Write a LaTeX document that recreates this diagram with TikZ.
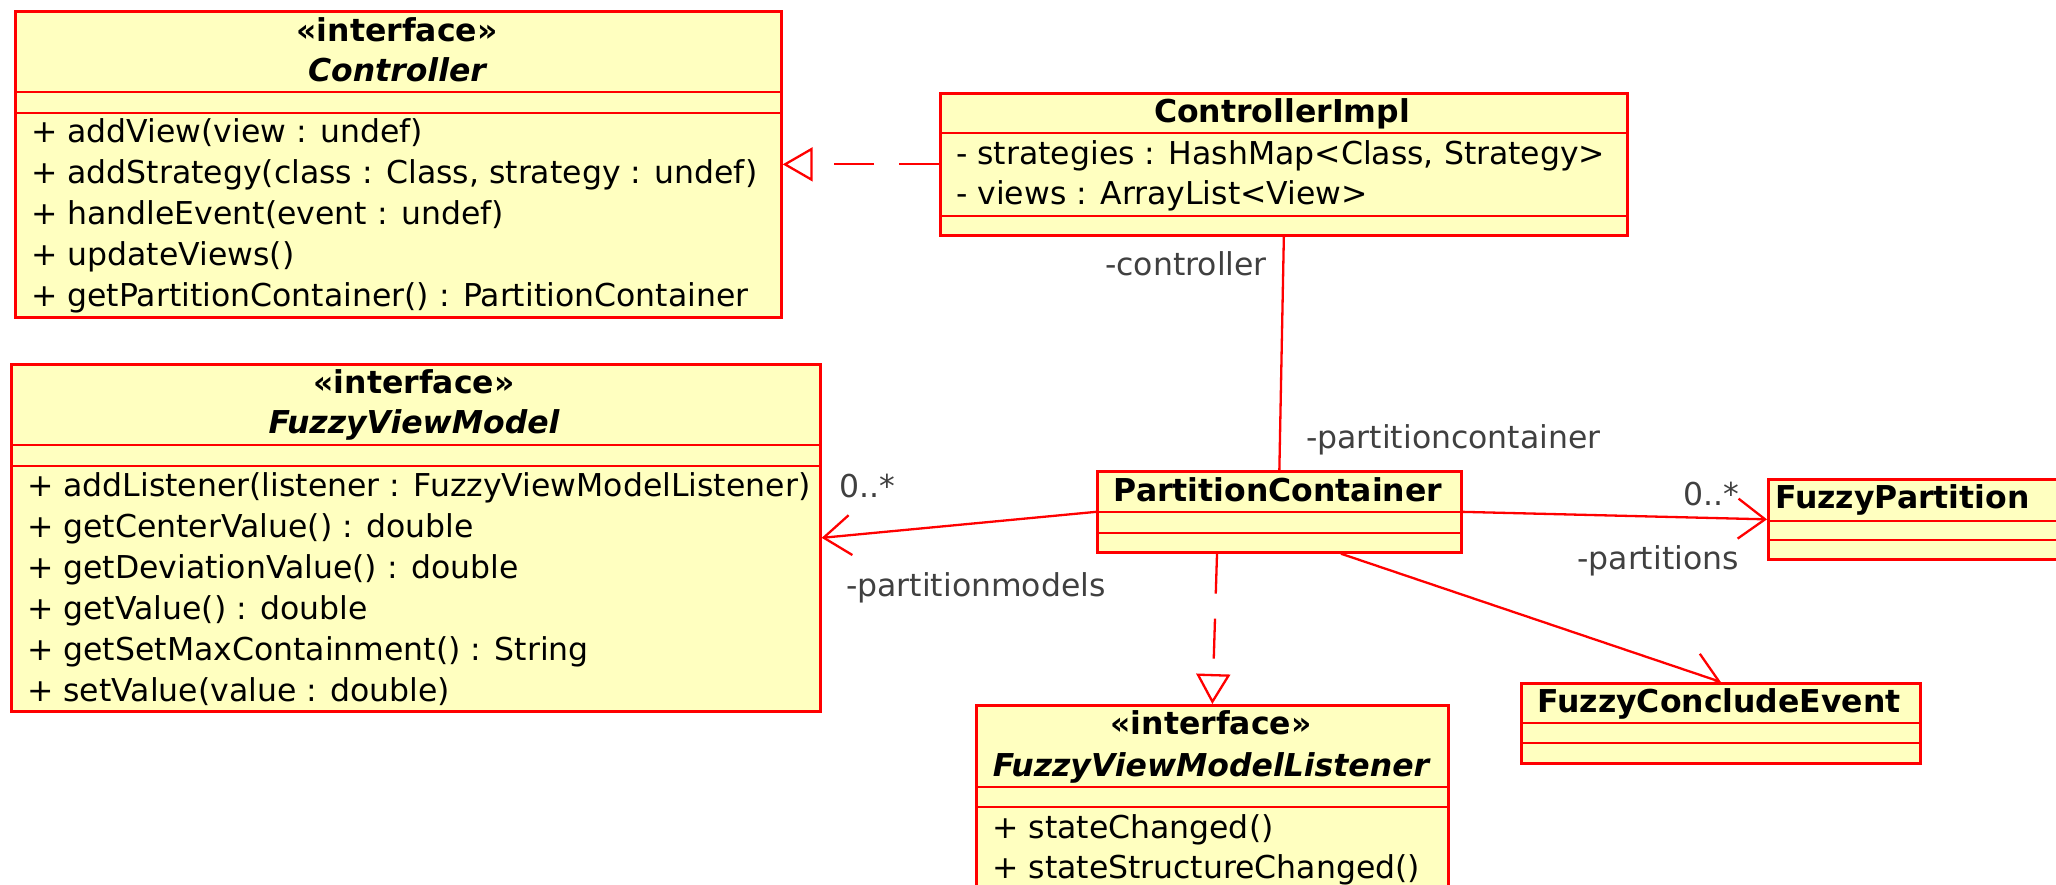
\documentclass[tikz,border=0pt]{standalone}
\usepackage{fontspec}
\setmainfont{DejaVu Sans}
\usetikzlibrary{arrows.meta,calc}
\pgfdeclarelayer{bg}
\pgfsetlayers{bg,main}
\definecolor{clsfill}{RGB}{255,255,192}
\definecolor{lblgray}{RGB}{64,64,64}
\begin{document}
\begin{tikzpicture}[x=1pt,y=-1pt,
  every node/.style={font=\fontsize{31.5}{37}\selectfont},
  cls/.style={draw=red, fill=clsfill, line width=2.7pt, rectangle, inner sep=0pt, anchor=north west},
  sep/.style={red, line width=2.7pt},
  txt/.style={inner sep=0pt, text height=22pt, text depth=0pt, anchor=west},
  ctxt/.style={inner sep=0pt, text height=22pt, text depth=0pt, anchor=center},
  lbl/.style={inner sep=0pt, text height=22pt, text depth=0pt, text=lblgray},
  conn/.style={red, line width=2.3pt},
  dsh/.style={conn, dash pattern=on 40pt off 25pt},
  real/.style={-{Triangle[open, length=30pt, width=34pt]}},
  nav/.style={-{Straight Barb[length=27pt, width=40pt]}}
]
\useasboundingbox (0,0) rectangle (2056,885);
\clip (0,0) rectangle (2056,885);

% ---------- Controller ----------
\node[cls, minimum width=766pt, minimum height=306pt] (ctrl) at (14,10) {};
\draw[sep] (14,92) -- (780,92);
\draw[sep] (14,113) -- (780,113);
\node[ctxt] (ctrl-st) at (397,31) {\bfseries «interface»};
\node[ctxt] (ctrl-nm) at (397,71) {\bfseries\itshape Controller};
\node[txt] (ctrl-m1) at (31,132) {+ addView(view : undef)};
\node[txt] (ctrl-m2) at (31,173) {+ addStrategy(class : Class, strategy : undef)};
\node[txt] (ctrl-m3) at (31,214) {+ handleEvent(event : undef)};
\node[txt] (ctrl-m4) at (31,255) {+ updateViews()};
\node[txt] (ctrl-m5) at (31,296) {+ getPartitionContainer() : PartitionContainer};

% ---------- ControllerImpl ----------
\node[cls, minimum width=687pt, minimum height=142pt] (impl) at (939,92) {};
\draw[sep] (939,133) -- (1626,133);
\draw[sep] (939,216) -- (1626,216);
\node[ctxt] (impl-nm) at (1282,112) {\bfseries ControllerImpl};
\node[txt] (impl-a1) at (956,154) {- strategies : HashMap<Class, Strategy>};
\node[txt] (impl-a2) at (956,194) {- views : ArrayList<View>};

% ---------- FuzzyViewModel ----------
\node[cls, minimum width=809pt, minimum height=347pt] (fvm) at (10,363) {};
\draw[sep] (10,445) -- (819,445);
\draw[sep] (10,466) -- (819,466);
\node[ctxt] (fvm-st) at (414,382) {\bfseries «interface»};
\node[ctxt] (fvm-nm) at (414,422) {\bfseries\itshape FuzzyViewModel};
\node[txt] (fvm-m1) at (27,485) {+ addListener(listener : FuzzyViewModelListener)};
\node[txt] (fvm-m2) at (27,526) {+ getCenterValue() : double};
\node[txt] (fvm-m3) at (27,567) {+ getDeviationValue() : double};
\node[txt] (fvm-m4) at (27,608) {+ getValue() : double};
\node[txt] (fvm-m5) at (27,649) {+ getSetMaxContainment() : String};
\node[txt] (fvm-m6) at (27,690) {+ setValue(value : double)};

% ---------- PartitionContainer ----------
\node[cls, minimum width=364pt, minimum height=81pt] (pc) at (1096,470) {};
\draw[sep] (1096,512) -- (1460,512);
\draw[sep] (1096,533) -- (1460,533);
\node[ctxt] (pc-nm) at (1278,490) {\bfseries PartitionContainer};

% ---------- FuzzyPartition ----------
\node[cls, minimum width=320pt, minimum height=80pt] (fp) at (1767,478) {};
\draw[sep] (1767,521) -- (2087,521);
\draw[sep] (1767,540) -- (2087,540);
\node[txt] (fp-nm) at (1775,497) {\bfseries FuzzyPartition};

% ---------- FuzzyConcludeEvent ----------
\node[cls, minimum width=399pt, minimum height=80pt] (fce) at (1520,682) {};
\draw[sep] (1520,723) -- (1919,723);
\draw[sep] (1520,743) -- (1919,743);
\node[ctxt] (fce-nm) at (1719,701) {\bfseries FuzzyConcludeEvent};

% ---------- FuzzyViewModelListener ----------
\node[cls, minimum width=472pt, minimum height=188pt] (fvml) at (975,704) {};
\draw[sep] (975,787) -- (1447,787);
\draw[sep] (975,807) -- (1447,807);
\node[ctxt] (fvml-st) at (1211,723) {\bfseries «interface»};
\node[ctxt] (fvml-nm) at (1211,765) {\bfseries\itshape FuzzyViewModelListener};
\node[txt] (fvml-m1) at (992,827) {+ stateChanged()};
\node[txt] (fvml-m2) at (992,867) {+ stateStructureChanged()};

% ---------- connectors ----------
\begin{pgfonlayer}{bg}
\draw[dsh, real] (impl.west) -- (ctrl.east);
\draw[conn] (impl.south) -- (pc.north);
\draw[conn, nav] (pc.west) -- (fvm.east);
\draw[conn, nav] (pc.east) -- (fp.west);
\draw[dsh, real] ($(pc.south west)!0.33!(pc.south east)$) -- (fvml.north);
\draw[conn, nav] ($(pc.south west)!0.668!(pc.south east)$) -- (fce.north);
\end{pgfonlayer}

% ---------- labels ----------
\node[lbl, anchor=east] (l-ctrl) at (1267,265) {-controller};
\node[lbl, anchor=west] (l-pcont) at (1306,437) {-partitioncontainer};
\node[lbl, anchor=west] (l-m1) at (839,486) {0..*};
\node[lbl, anchor=west] (l-pm) at (846,585) {-partitionmodels};
\node[lbl, anchor=east] (l-m2) at (1739,494) {0..*};
\node[lbl, anchor=east] (l-parts) at (1739,558) {-partitions};
\end{tikzpicture}
\end{document}
